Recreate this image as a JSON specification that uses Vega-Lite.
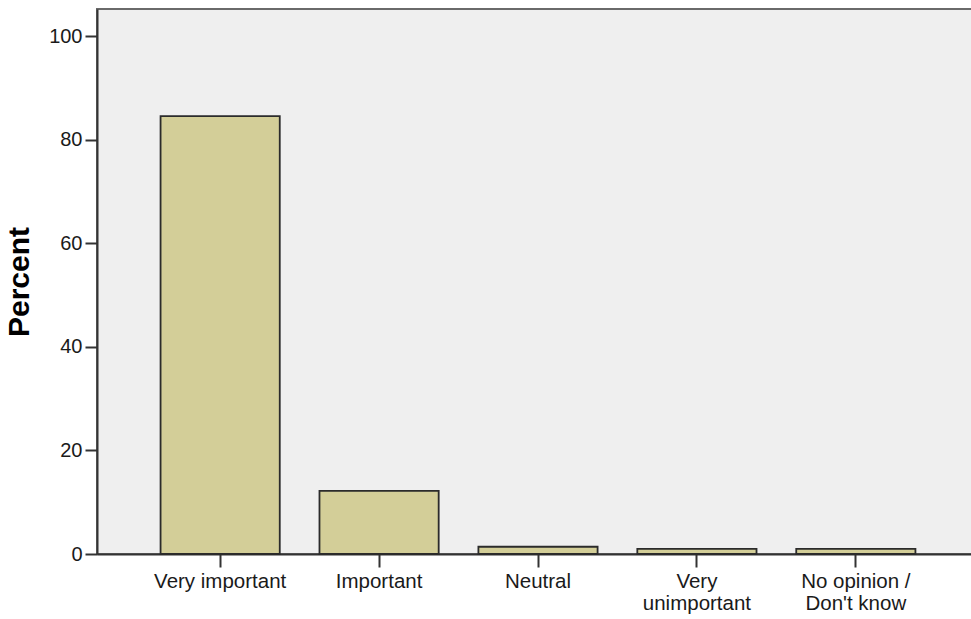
{
  "$schema": "https://vega.github.io/schema/vega-lite/v6.json",
  "autosize": "none",
  "padding": {"left": 97, "top": 9, "right": 0, "bottom": 65},
  "width": 882,
  "height": 545,
  "background": "white",
  "data": {
    "values": [
      {"category": "Very important", "percent": 84.6},
      {"category": "Important", "percent": 12.2},
      {"category": "Neutral", "percent": 1.4},
      {"category": "Very unimportant", "percent": 1.0},
      {"category": "No opinion / Don't know", "percent": 1.0}
    ]
  },
  "config": {
    "view": {"fill": "#EFEFEF", "stroke": "#6a6a6a", "strokeWidth": 2},
    "font": "Liberation Sans"
  },
  "mark": {"type": "bar", "fill": "#D3CE98", "stroke": "#2b2b2b", "strokeWidth": 1.8},
  "encoding": {
    "x": {
      "field": "category",
      "type": "nominal",
      "sort": null,
      "scale": {"paddingInner": 0.25, "paddingOuter": 0.4},
      "axis": {
        "title": null,
        "labelAngle": 0,
        "labelFont": "Liberation Sans",
        "labelFontSize": 20.5,
        "labelColor": "#1a1a1a",
        "labelPadding": 4,
        "labelLineHeight": 22,
        "tickSize": 13,
        "tickWidth": 2,
        "tickColor": "#333333",
        "domainColor": "#333333",
        "domainWidth": 2,
        "labelExpr": "datum.label == 'Very unimportant' ? ['Very', 'unimportant'] : datum.label == \"No opinion / Don't know\" ? ['No opinion /', \"Don't know\"] : datum.label"
      }
    },
    "y": {
      "field": "percent",
      "type": "quantitative",
      "scale": {"domain": [0, 105.3], "nice": false},
      "axis": {
        "title": "Percent",
        "titleFont": "Liberation Sans",
        "titleFontSize": 30,
        "titleFontWeight": "bold",
        "titleColor": "#000000",
        "titlePadding": 14,
        "values": [0, 20, 40, 60, 80, 100],
        "grid": false,
        "labelFont": "Liberation Sans",
        "labelFontSize": 20,
        "labelColor": "#1a1a1a",
        "labelPadding": 3,
        "tickSize": 12,
        "tickWidth": 2,
        "tickColor": "#333333",
        "domainColor": "#333333",
        "domainWidth": 2
      }
    }
  }
}
